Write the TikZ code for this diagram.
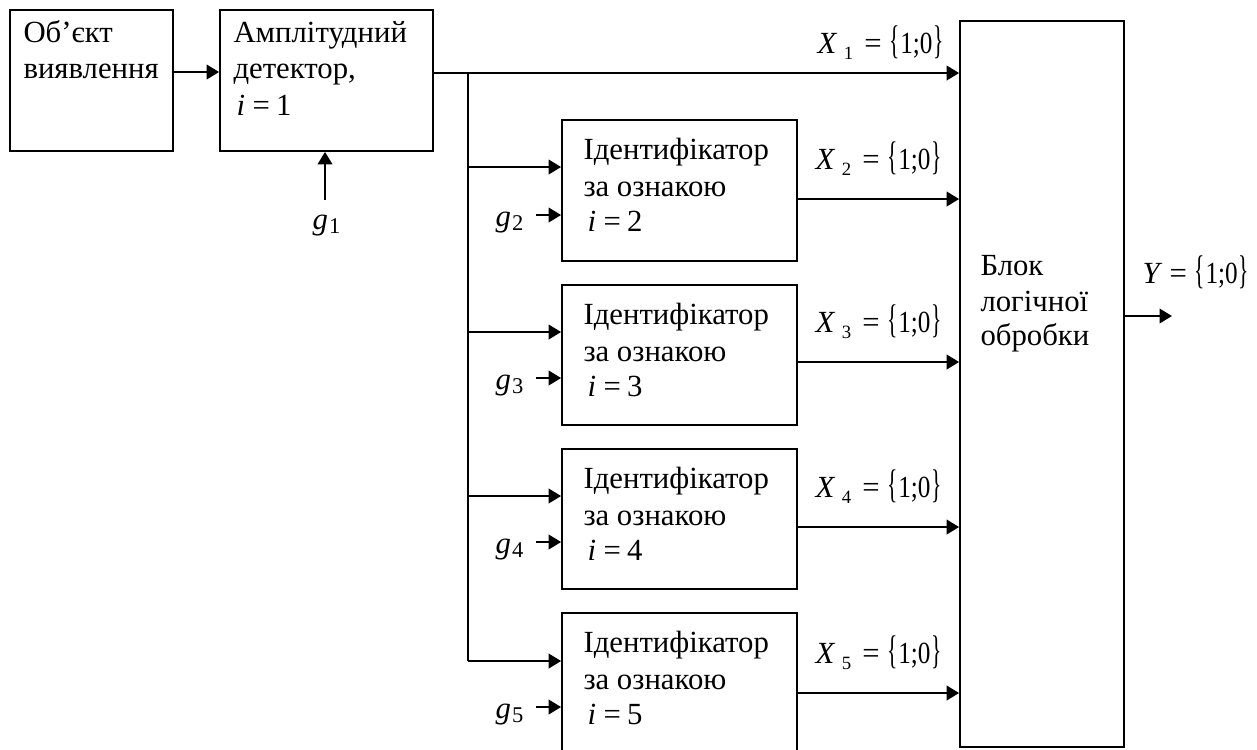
\documentclass[tikz,border=0pt]{standalone}
\usepackage{fontspec}
\setmainfont{Liberation Serif}
\usetikzlibrary{arrows.meta,fit}
\newcommand\bset{\scalebox{0.7}[1.3]{\{}\kern0.3pt\scalebox{0.82}[1]{1;0}\kern0.3pt\scalebox{0.7}[1.3]{\}}}
\newcommand\subeq[2]{{\itshape #1}\kern3pt\raisebox{-2.6pt}{\fontsize{7.5}{8}\selectfont #2}\kern4.5pt=\kern3pt\bset}
\newcommand\gsub[1]{{\itshape g}\kern0.5pt\raisebox{-1.8pt}{\fontsize{9}{9}\selectfont #1}}
\begin{document}
\begin{tikzpicture}[x=0.4pt,y=-0.4pt,
  box/.style={draw,line width=0.7pt,inner sep=0pt},
  ln/.style={line width=0.9pt},
  arr/.style={line width=0.9pt,-{Triangle[length=5pt,width=5.8pt]}},
  txt/.style={anchor=base west,inner sep=0pt,font=\fontsize{12.3}{14}\selectfont}]
\clip (0,0) rectangle (1257,749);
\fill[white] (0,0) rectangle (1257,749);
% top blocks
\node[box,fit={(10,10)(173,151)}] (obj) {};
\node[box,fit={(220,10)(433,151)}] (amp) {};
\node[box,fit={(960,21)(1124,747)}] (logic) {};
\node[txt] (t1) at (23,42) {Об’єкт};
\node[txt] (t2) at (23,78) {виявлення};
\node[txt] (t3) at (233,42) {Амплітудний};
\node[txt] (t4) at (233,78) {детектор,};
\node[txt] (t5) at (236,115) {{\itshape i}\kern3pt=\kern2.5pt1};
\node[txt] (t6) at (980,275) {Блок};
\node[txt] (t7) at (980,311) {логічної};
\node[txt] (t8) at (980,345) {обробки};
\draw[arr] (obj.east |- 0,72) -- (amp.west |- 0,72);
\coordinate (g1c) at (325,200);
\draw[arr] (g1c) -- (g1c |- amp.south);
\node[txt] (g1) at (312,229) {\gsub{1}};
% main line
\coordinate (jn) at (468,73);
\draw[arr] (amp.east |- jn) -- (logic.west |- jn);
\node[txt] (x1) at (817,53) {\subeq{X}{1}};
\draw[ln] (jn) -- (468,661);
% identifiers
\foreach \k/\t/\bt/\xin/\g/\out in {
  2/120/261/167/215/199,
  3/285/425/332/378/362,
  4/449/589/496/542/527,
  5/613/760/661/707/693}{
  \node[box,fit={(562,\t)(797,\bt)}] (id\k) {};
  \node[txt] (ia\k) at (583,\t+39) {Ідентифікатор};
  \node[txt] (ib\k) at (583,\t+76) {за ознакою};
  \node[txt] (ic\k) at (587,\t+111) {{\itshape i}\kern3pt=\kern2.5pt\k};
  \coordinate (b\k) at (468,\xin);
  \draw[arr] (b\k) -- (id\k.west |- b\k);
  \coordinate (gc\k) at (536,\g);
  \draw[arr] (gc\k) -- (id\k.west |- gc\k);
  \node[txt] (gl\k) at (495,\g+11) {\gsub{\k}};
  \draw[arr] (id\k.east |- 0,\out) -- (logic.west |- 0,\out);
  \node[txt] (xl\k) at (815,\out-30) {\subeq{X}{\k}};
}
% output
\coordinate (yc) at (1172,316);
\draw[arr] (logic.east |- yc) -- (yc);
\node[txt] (yl) at (1142,283) {{\itshape Y}\kern4pt=\kern3pt\bset};
\end{tikzpicture}
\end{document}
